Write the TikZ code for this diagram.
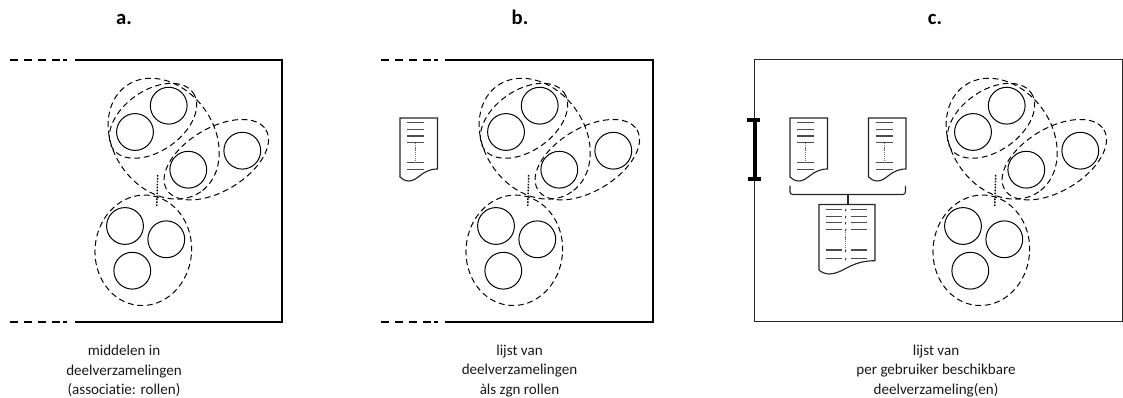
\documentclass[tikz,border=0pt]{standalone}
\usepackage{fontspec}
\setmainfont[Ligatures=NoCommon]{Carlito}
\tikzset{
  frameline/.style={line width=1.2pt,black},
  frameopen/.style={line width=1.2pt,black,dash pattern=on 6pt off 4.5pt on 6pt off 4.5pt on 6pt off 4.5pt on 6pt off 2.5pt on 3pt off 20pt},
  member/.style={circle,draw,line width=0.75pt,minimum size=27.6pt,inner sep=0pt},
  subset/.style={line width=0.75pt,dash pattern=on 4.4pt off 2.8pt},
  linkdots/.style={line width=1.1pt,dash pattern=on 1.2pt off 1.0pt},
  docshape/.style={line width=0.85pt,draw=black!85},
  docline/.style={line width=0.8pt,black!70},
  docdots/.style={line width=0.4pt,black!55,dash pattern=on 1pt off 0.6pt},
  captxt/.style={font=\fontsize{11.3}{14.6}\selectfont,align=center,text=black!90},
  headtxt/.style={font=\fontsize{15.5}{17}\selectfont\bfseries,anchor=base,inner sep=0pt},
}
\newcommand{\cluster}[2]{%
\begin{scope}[shift={(#2,0)}]
  \node[member] (#1c1) at (168.7,105.7) {};
  \node[member] (#1c2) at (135,132) {};
  \node[member] (#1c3) at (188.3,169.7) {};
  \node[member] (#1c4) at (242.3,150.7) {};
  \node[member] (#1c5) at (125,226) {};
  \node[member] (#1c6) at (166.3,239.3) {};
  \node[member] (#1c7) at (132.3,270.7) {};
  \draw[subset,rotate around={35:(153,120.8)}] (153,120.8) ellipse (48.9 and 30.3);
  \draw[subset,rotate around={-55:(163.7,138.7)}] (163.7,138.7) ellipse (64.8 and 50.4);
  \draw[subset,rotate around={31:(216.3,159.7)}] (216.3,159.7) ellipse (57.9 and 31.5);
  \draw[subset,rotate around={-5:(143.3,250.3)}] (143.3,250.3) ellipse (48.3 and 55.3);
  \coordinate (#1d1) at (157.7,175);
  \coordinate (#1d2) at (156.7,207);
  \draw[linkdots] (#1d1) -- (#1d2);
\end{scope}}
\newcommand{\smalldoc}[2]{%
\begin{scope}[shift={(#2,0)}]
  \draw[docshape] (0,0) -- (37.5,0) -- (37.5,51) .. controls (22,51) and (18,63) .. (9,63) .. controls (5,63) and (2,61) .. (0,59) -- cycle;
  \foreach \yy in {4.7,11.3,18,24.7,44.7,51.3} \draw[docline] (7,\yy) -- (24,\yy);
  \draw[docdots] (15.7,25) -- (15.7,44.5);
\end{scope}}
\begin{document}
\begin{tikzpicture}[x=0.75pt,y=-0.75pt]
\useasboundingbox (0,0) rectangle (1123,398);
% panel a
\coordinate (a1) at (10,60); \coordinate (a2) at (75,60); \coordinate (a3) at (282,60);
\coordinate (a4) at (282,322); \coordinate (a5) at (75,322); \coordinate (a6) at (10,322);
\draw[frameopen] (a1) -- (a2);
\draw[frameopen] (a6) -- (a5);
\draw[frameline] (a2) -- (a3) -- (a4) -- (a5);
\cluster{a}{0}
% panel b
\coordinate (b1) at (381,60); \coordinate (b2) at (445,60); \coordinate (b3) at (653,60);
\coordinate (b4) at (653,322); \coordinate (b5) at (445,322); \coordinate (b6) at (381,322);
\draw[frameopen] (b1) -- (b2);
\draw[frameopen] (b6) -- (b5);
\draw[frameline] (b2) -- (b3) -- (b4) -- (b5);
\cluster{b}{371}
\begin{scope}[shift={(0,118)}]\smalldoc{bd}{400}\end{scope}
% panel c
\draw[line width=0.75pt,black!85] (754,60) rectangle (1122.5,322);
\cluster{c}{838}
\coordinate (i1) at (755,120); \coordinate (i2) at (755,179);
\draw[line width=2.8pt] (i1) -- (i2);
\draw[line width=2.3pt] (747,120) -- (760,120);
\draw[line width=2.3pt] (748,179) -- (761,179);
\begin{scope}[shift={(0,118)}]\smalldoc{cd1}{790}\smalldoc{cd2}{868.5}\end{scope}
\draw[line width=0.85pt,black!85,rounded corners=2pt] (790,186) -- (790,194.5) -- (905.5,194.5) -- (905.5,186);
\draw[line width=1.3pt,black!85] (847.7,194.5) -- (847.7,204);
% big document
\draw[docshape] (819,204.5) -- (875,204.5) -- (875,260.7) .. controls (850,260.7) and (843,274) .. (829,274) .. controls (825,274) and (821,272) .. (819,270) -- cycle;
\foreach \yy in {209.5,216.5,222.5,229.5,250,258.5} {
  \draw[docline] (826,\yy) -- (841.5,\yy);
  \draw[docline] (850.5,\yy) -- (867,\yy);
  \draw[line width=0.7pt,black!80] (845.3,\yy+1.8) -- (845.9,\yy-0.5);
}
\draw[docdots] (845.5,232) -- (845.5,249);
% texts
\node[headtxt] (ha) at (124,25) {a.};
\node[headtxt] (hb) at (520,25) {b.};
\node[headtxt] (hc) at (935,25) {c.};
\node[captxt] (ta) at (124,371) {middelen in\\deelverzamelingen\\(associatie: rollen)};
\node[captxt] (tb) at (519.5,371) {lijst van\\deelverzamelingen\\àls zgn rollen};
\node[captxt] (tc) at (936,371) {lijst van\\per gebruiker beschikbare\\deelverzameling(en)};
\end{tikzpicture}
\end{document}
